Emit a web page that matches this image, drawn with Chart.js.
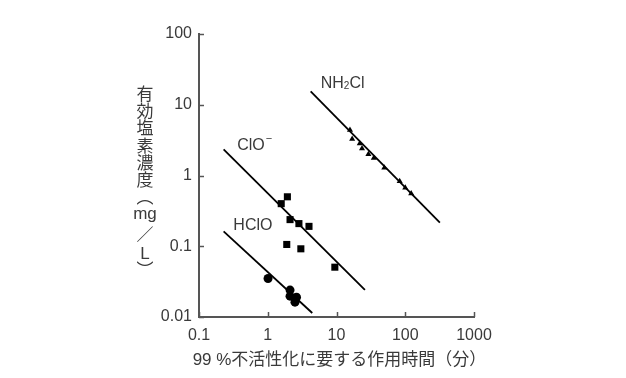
<!DOCTYPE html>
<html><head><meta charset="utf-8">
<script src="https://cdn.jsdelivr.net/npm/chart.js@4/dist/chart.umd.min.js"></script>
<style>html,body{margin:0;padding:0;background:#fff}#wrap{width:626px;height:378px}</style>
</head><body><div id="wrap"><canvas id="c" width="626" height="378"></canvas></div>
<script>
// ---- data (x: minutes for 99% inactivation, y: effective chlorine mg/L) ----
const hocl_x = [1.01, 2.11, 2.11, 2.62, 2.49];
const hocl_y = [0.035, 0.024, 0.0197, 0.019, 0.0162];
const ocl_x = [1.57, 1.93, 2.11, 2.84, 3.98, 1.89, 3.03, 9.46];
const ocl_y = [0.40, 0.50, 0.238, 0.209, 0.191, 0.106, 0.092, 0.0506];
const nh2cl_x = [15.7, 16.9, 21.8, 23.5, 29.1, 34.9, 49.6, 83, 100, 122];
const nh2cl_y = [4.39, 3.27, 2.84, 2.41, 1.99, 1.77, 1.29, 0.83, 0.67, 0.556];
// fitted lines (endpoints)
const hocl_line_x = [0.228, 4.44];
const hocl_line_y = [0.162, 0.0114];
const ocl_line_x = [0.228, 25.9];
const ocl_line_y = [2.34, 0.0241];
const nh2cl_line_x = [4.21, 319];
const nh2cl_line_y = [15.4, 0.215];
// ticks
const xTicks = [0.1, 1, 10, 100, 1000];
const yTicks = [0.01, 0.1, 1, 10, 100];
const xTitle = '99 %不活性化に要する作用時間（分）';
const yTitleChars = ['有','効','塩','素','濃','度','︵','mg','／','L','︶'];
const seriesLabels = [
  {text:'NH', sub:'2', rest:'Cl', x:5.9, y:20.2},
  {text:'ClO', sup:'−', x:0.36, y:2.67},
  {text:'HClO', x:0.316, y:0.195}
];

const FONT = "'Liberation Sans','Noto Sans CJK JP',sans-serif";
const TXT = '#3a3a3a';
const AXC = '#555';

const pts = (xs, ys) => xs.map((x,i)=>({x, y: ys[i]}));

const decor = {
  id:'decor',
  afterDraw(chart){
    const ctx = chart.ctx, xs = chart.scales.x, ys = chart.scales.y, a = chart.chartArea;
    ctx.save();
    // inward tick marks
    ctx.strokeStyle = AXC; ctx.lineWidth = 1.5;
    xTicks.forEach(v=>{ const px = Math.round(xs.getPixelForValue(v))+0.5;
      ctx.beginPath(); ctx.moveTo(px, a.bottom); ctx.lineTo(px, a.bottom-5); ctx.stroke(); });
    yTicks.forEach(v=>{ const py = Math.round(ys.getPixelForValue(v))+0.5;
      ctx.beginPath(); ctx.moveTo(a.left, py); ctx.lineTo(a.left+5, py); ctx.stroke(); });
    // series labels
    ctx.fillStyle = TXT; ctx.textBaseline = 'middle'; ctx.textAlign = 'left';
    seriesLabels.forEach(l=>{
      let px = xs.getPixelForValue(l.x), py = ys.getPixelForValue(l.y);
      ctx.font = '16px ' + FONT;
      ctx.fillText(l.text, px, py); px += ctx.measureText(l.text).width;
      if (l.sub){ ctx.font = '10px ' + FONT; ctx.fillText(l.sub, px, py+3); px += ctx.measureText(l.sub).width;
        ctx.font = '16px ' + FONT; ctx.fillText(l.rest, px, py); }
      if (l.sup){ ctx.font = '11px ' + FONT; ctx.fillText(l.sup, px+1, py-6); }
    });
    // x title
    ctx.font = '17px ' + FONT; ctx.textAlign = 'center';
    ctx.fillText(xTitle, (a.left+a.right)/2 + 3, a.bottom + 43);
    // y title, vertical
    let y = 95;
    yTitleChars.forEach(ch=>{
      ctx.font = '17px ' + FONT;
      ctx.fillText(ch, 145, y);
      y += (ch === 'mg') ? 22 : (ch==='︵'||ch==='︶') ? 16 : 17.3;
    });
    ctx.restore();
  }
};

new Chart(document.getElementById('c'), {
  type: 'scatter',
  data: { datasets: [
    {data: pts(hocl_x, hocl_y), pointStyle:'circle', pointRadius:4.5, backgroundColor:'#000', borderColor:'#000', borderWidth:0},
    {data: pts(ocl_x, ocl_y), pointStyle:'rect', pointRadius:5, backgroundColor:'#000', borderColor:'#000', borderWidth:0},
    {data: pts(nh2cl_x, nh2cl_y), pointStyle:'triangle', pointRadius:3.5, backgroundColor:'#000', borderColor:'#000', borderWidth:0},
    {type:'line', data: pts(hocl_line_x, hocl_line_y), borderColor:'#000', borderWidth:1.8, pointRadius:0, fill:false},
    {type:'line', data: pts(ocl_line_x, ocl_line_y), borderColor:'#000', borderWidth:1.8, pointRadius:0, fill:false},
    {type:'line', data: pts(nh2cl_line_x, nh2cl_line_y), borderColor:'#000', borderWidth:1.8, pointRadius:0, fill:false}
  ]},
  options: {
    responsive:false, animation:false,
    layout:{padding:{left:0, right:152, top:34, bottom:0}},
    plugins:{legend:{display:false}, tooltip:{enabled:false}},
    scales:{
      x:{type:'logarithmic', min:0.1, max:1000,
        afterBuildTicks: s => { s.ticks = xTicks.map(v=>({value:v})); },
        afterFit: s => { s.height = 61; },
        grid:{display:false, drawTicks:false},
        border:{display:true, color:AXC, width:2},
        ticks:{padding:9, color:TXT, font:{family:FONT, size:16}, maxRotation:0, autoSkip:false,
          callback: v => String(v)}
      },
      y:{type:'logarithmic', min:0.01, max:100,
        afterBuildTicks: s => { s.ticks = yTicks.map(v=>({value:v})); },
        afterFit: s => { s.width = 199; },
        grid:{display:false, drawTicks:false},
        border:{display:true, color:AXC, width:2},
        ticks:{padding:7, color:TXT, font:{family:FONT, size:16}, autoSkip:false,
          callback: v => String(v)}
      }
    }
  },
  plugins:[decor]
});
</script></body></html>
